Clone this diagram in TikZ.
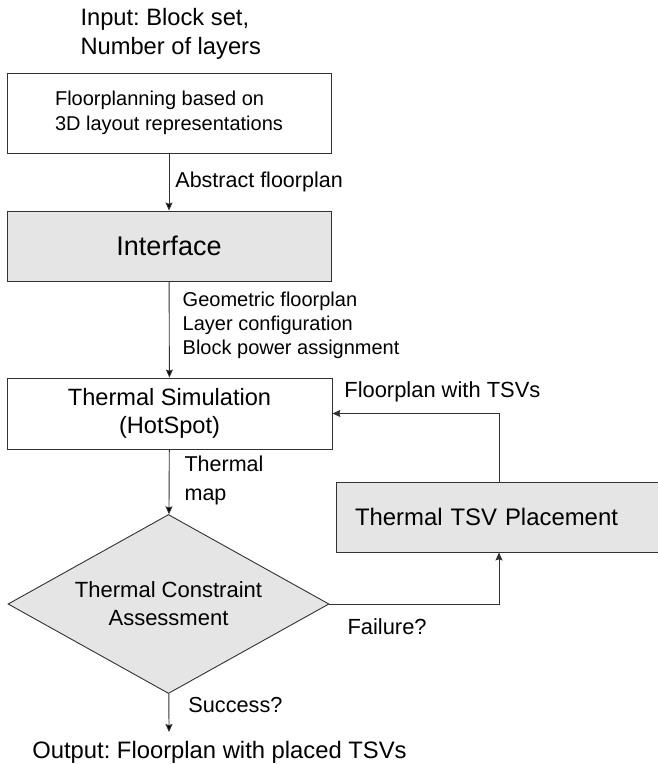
\documentclass[tikz,border=0pt]{standalone}
\usepackage{fontspec}
\setmainfont{Liberation Sans}
\usepackage{tikz}
\usetikzlibrary{arrows.meta,positioning,calc,shapes.geometric}
\definecolor{boxgrey}{RGB}{229,229,229}
\definecolor{linegrey}{RGB}{50,50,50}
\frenchspacing

\begin{document}
\begin{tikzpicture}[x=1pt,y=-1pt,
  box/.style={rectangle, draw=linegrey, line width=0.9pt, inner sep=0pt},
  conn/.style={draw=linegrey, line width=0.9pt, -{Stealth[length=8pt,width=7pt,inset=1.2pt]}},
  lbl/.style={font=\fontsize{20}{24}\selectfont, align=left, inner sep=0pt}]
  \useasboundingbox (0,0) rectangle (657,764);

  \node (input) [anchor=west, align=left, font=\fontsize{23.7}{29}\selectfont] at (77,33.5) {Input: Block set,\\Number of layers};
  \node (plan) [box, minimum width=324pt, minimum height=80pt, align=left, font=\fontsize{20}{25}\selectfont] at (169,113) {Floorplanning based on\\3D layout representations};
  \node (iface) [box, fill=boxgrey, minimum width=324pt, minimum height=70pt, font=\fontsize{27}{32}\selectfont] at (169,246) {Interface};
  \node (sim) [box, minimum width=325pt, minimum height=71pt, align=center, font=\fontsize{23.6}{28}\selectfont] at (169.5,413.5) {Thermal Simulation\\(HotSpot)};
  \node (tsv) [box, fill=boxgrey, minimum width=326pt, minimum height=70pt, text width=288pt, align=left, font=\fontsize{23.9}{28}\selectfont] at (499,517) {Thermal TSV Placement};
  \node (check) [diamond, draw=linegrey, line width=0.9pt, fill=boxgrey, inner sep=0pt, aspect=1.79, minimum width=321pt, minimum height=179pt, align=center, font=\fontsize{22}{28}\selectfont] at (168.5,604) {Thermal Constraint\\Assessment};
  \node (output) [font=\fontsize{23.8}{29}\selectfont] at (219.5,752) {Output: Floorplan with placed TSVs};
  \coordinate (outin) at (169,732);

  \path [conn]
  (plan) edge node [lbl, right, xshift=6pt, font=\fontsize{21.5}{26}\selectfont] {Abstract floorplan} (iface)
  (iface) edge node [lbl, right, xshift=13pt, yshift=4.5pt] {Geometric floorplan\\Layer configuration\\Block power assignment} (sim)
  (sim) edge node [lbl, right, xshift=15pt, yshift=1pt, font=\fontsize{21.5}{29}\selectfont] {Thermal\\map} (check)
  (check) edge node [lbl, right, xshift=19pt, yshift=8pt, font=\fontsize{21.7}{26}\selectfont] {Success?} (outin);
  \draw [conn] (check.east) -| node [lbl, pos=0.17, below, yshift=-14pt, font=\fontsize{21.9}{26}\selectfont] {Failure?} (tsv.south);
  \draw [conn] (tsv.north) |- node [lbl, pos=0.67, above, yshift=11pt, font=\fontsize{21.9}{26}\selectfont] {Floorplan with TSVs} (sim.east);
\end{tikzpicture}
\end{document}
